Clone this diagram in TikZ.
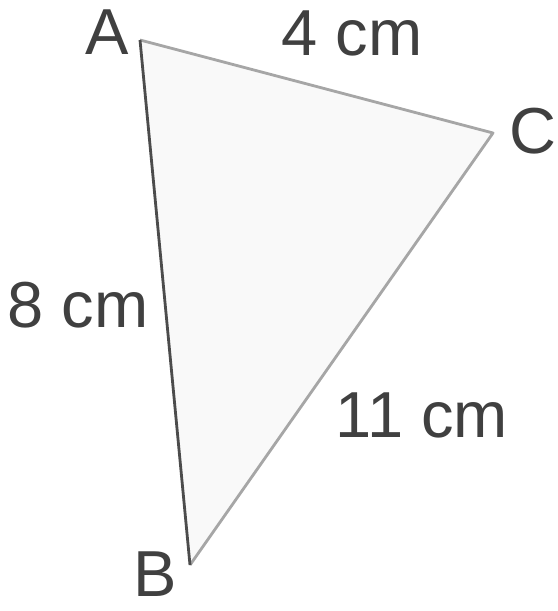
\documentclass[tikz,border=0pt]{standalone}
\usepackage{fontspec}
\setmainfont{Liberation Sans}
\begin{document}
\begin{tikzpicture}[
  side/.style={draw=gray!70, line width=1.6pt, line join=round},
  lbl/.style={font=\fontsize{37}{40}\selectfont, text=black!75, inner sep=0pt}
]
  \useasboundingbox (0,0) rectangle (11.14,-12.22);

  % Corners of the triangle
  \coordinate (A) at (2.8,-0.8);
  \coordinate (C) at (9.86,-2.66);
  \coordinate (B) at (3.8,-11.3);

  % Triangle with light shading
  \fill[gray!5] (A) -- (B) -- (C) -- cycle;
  \draw[side] (A) -- (C) -- (B);
  \draw[side, draw=black!70] (A) -- (B);

  % Corner names
  \node[lbl] (nameA) at (2.14,-0.64) {A};
  \node[lbl] (nameC) at (10.66,-2.62) {C};
  \node[lbl] (nameB) at (3.1,-11.48) {B};

  % Side lengths
  \node[lbl] (lenAC) at (7.04,-0.66) {4 cm};
  \node[lbl] (lenAB) at (1.56,-6.1) {8 cm};
  \node[lbl] (lenBC) at (8.44,-8.3) {11 cm};
\end{tikzpicture}
\end{document}
